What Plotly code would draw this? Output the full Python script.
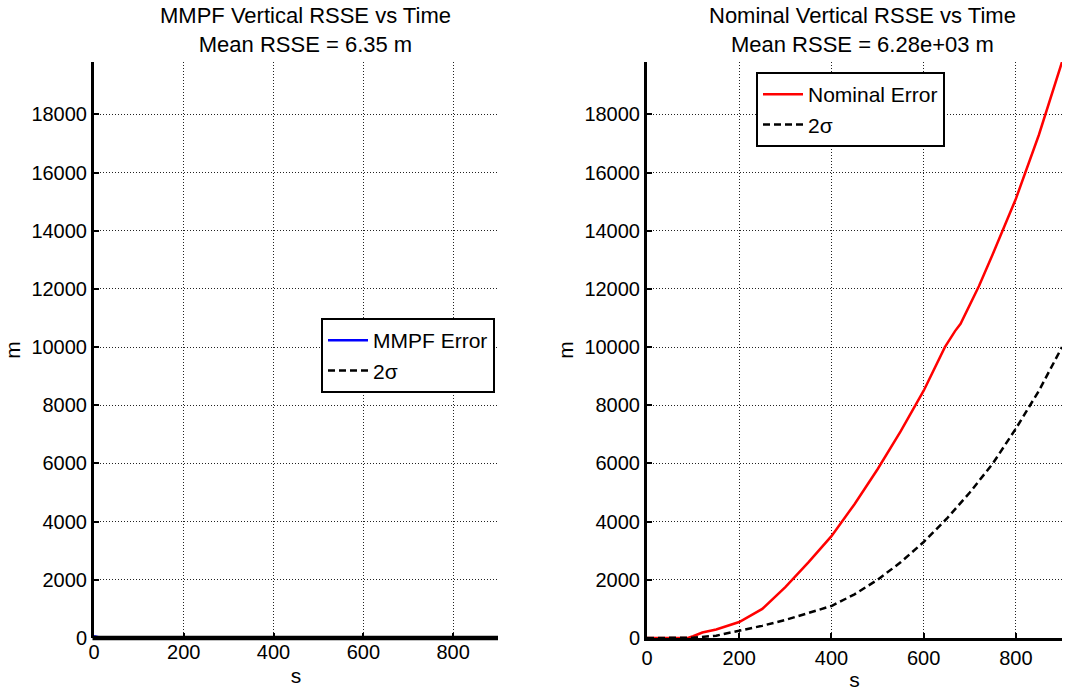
import plotly.graph_objects as go

W, H = 1065, 691

# Data
t_nom = [0, 50, 90, 100, 120, 150, 200, 250, 300, 350, 400, 450, 500, 550, 600,
         646, 668, 680, 707, 720, 750, 800, 850, 900]
nom_err = [0, 0, 10, 60, 190, 290, 550, 1000, 1750, 2600, 3500, 4600, 5800, 7100, 8500,
           10000, 10550, 10800, 11640, 12100, 13200, 15100, 17300, 19800]
t_sig = [0, 90, 100, 150, 200, 250, 300, 350, 400, 450, 500, 550, 600, 650, 700,
         750, 800, 850, 900]
nom_sig = [0, 0, 10, 80, 240, 420, 620, 850, 1100, 1500, 2000, 2600, 3300, 4100, 5000,
           6000, 7200, 8500, 10000]
t_mmpf = [0, 5, 10, 15, 20, 100, 200, 300, 400, 500, 600, 700, 800, 900]
mmpf_err = [60, 40, 20, 10, 6, 6, 5, 6, 7, 6, 6, 7, 6, 6]
mmpf_sig = [30, 25, 20, 15, 12, 12, 12, 12, 12, 12, 12, 12, 12, 12]

titles = [("MMPF Vertical RSSE vs Time", "Mean RSSE = 6.35 m"),
          ("Nominal Vertical RSSE vs Time", "Mean RSSE = 6.28e+03 m")]

FONT = "Liberation Sans, Arial, sans-serif"

fig = go.Figure()
fig.add_trace(go.Scatter(x=t_mmpf, y=mmpf_err, mode="lines", name="MMPF Error",
                         line=dict(color="#0000ff", width=2.5), xaxis="x", yaxis="y",
                         legend="legend"))
fig.add_trace(go.Scatter(x=t_mmpf, y=mmpf_sig, mode="lines", name="2σ",
                         line=dict(color="black", width=2.5, dash="7px,4px"), xaxis="x", yaxis="y",
                         legend="legend"))
fig.add_trace(go.Scatter(x=t_nom, y=nom_err, mode="lines", name="Nominal Error",
                         line=dict(color="#ff0000", width=2.5), xaxis="x2", yaxis="y2",
                         legend="legend2"))
fig.add_trace(go.Scatter(x=t_sig, y=nom_sig, mode="lines", name="2σ",
                         line=dict(color="black", width=2.5, dash="7px,4px"), xaxis="x2", yaxis="y2",
                         legend="legend2"))

ydom = [1 - 638 / H, 1 - 62 / H]
xdom1 = [94 / W, 498 / W]
xdom2 = [647 / W, 1062 / W]

axcommon = dict(linecolor="black", linewidth=3, ticks="inside", automargin=False,
                ticklen=5, tickwidth=2, tickcolor="black", showgrid=True,
                gridcolor="#222222", gridwidth=1, griddash="1px,2px", zeroline=False,
                tickfont=dict(family=FONT, size=20, color="black"), mirror=False,
                layer="above traces")

xticks = [0, 200, 400, 600, 800]
yticks = list(range(0, 20000, 2000))

fig.update_layout(
    width=W, height=H, margin=dict(l=0, r=0, t=0, b=0, autoexpand=False), autosize=False,
    paper_bgcolor="white", plot_bgcolor="white",
    font=dict(family=FONT, color="black"),
    xaxis=dict(domain=xdom1, range=[0, 900], tickvals=xticks, anchor="y", showline=False,
               title=dict(text="s", font=dict(size=21), standoff=6), **axcommon),
    yaxis=dict(domain=ydom, range=[0, 19800], tickvals=yticks, anchor="x", showline=True,
               tickformat="d",
               title=dict(text="m", font=dict(size=21), standoff=6), **axcommon),
    xaxis2=dict(domain=xdom2, range=[0, 900], tickvals=xticks, anchor="y2", showline=True,
                title=dict(text="s", font=dict(size=21), standoff=6), **axcommon),
    yaxis2=dict(domain=ydom, range=[0, 19800], tickvals=yticks, anchor="x2", showline=True,
                tickformat="d",
                title=dict(text="m", font=dict(size=21), standoff=6), **axcommon),
    legend=dict(x=321 / W, y=1 - 318 / H, xanchor="left", yanchor="top",
                bgcolor="white", bordercolor="black", borderwidth=2,
                font=dict(family=FONT, size=21, color="black"),
                tracegroupgap=0, itemwidth=40),
    legend2=dict(x=756 / W, y=1 - 72 / H, xanchor="left", yanchor="top",
                 bgcolor="white", bordercolor="black", borderwidth=2,
                 font=dict(family=FONT, size=21, color="black"),
                 tracegroupgap=0, itemwidth=40),
    showlegend=True,
)

# bottom axis line of the left panel drawn on top of the data (as in the reference)
fig.add_shape(type="line", xref="paper", yref="paper", x0=xdom1[0] - 1.5 / W, x1=xdom1[1],
              y0=ydom[0], y1=ydom[0], line=dict(color="black", width=4.5),
              layer="above")

for (l1, l2), cx in zip(titles, [305.5, 862]):
    fig.add_annotation(x=cx / W, y=1 - 1 / H, xref="paper", yref="paper",
                       xanchor="center", yanchor="top", showarrow=False,
                       text=l1 + "<br>" + l2,
                       font=dict(family=FONT, size=22, color="black"))

fig.write_html("out.html")
